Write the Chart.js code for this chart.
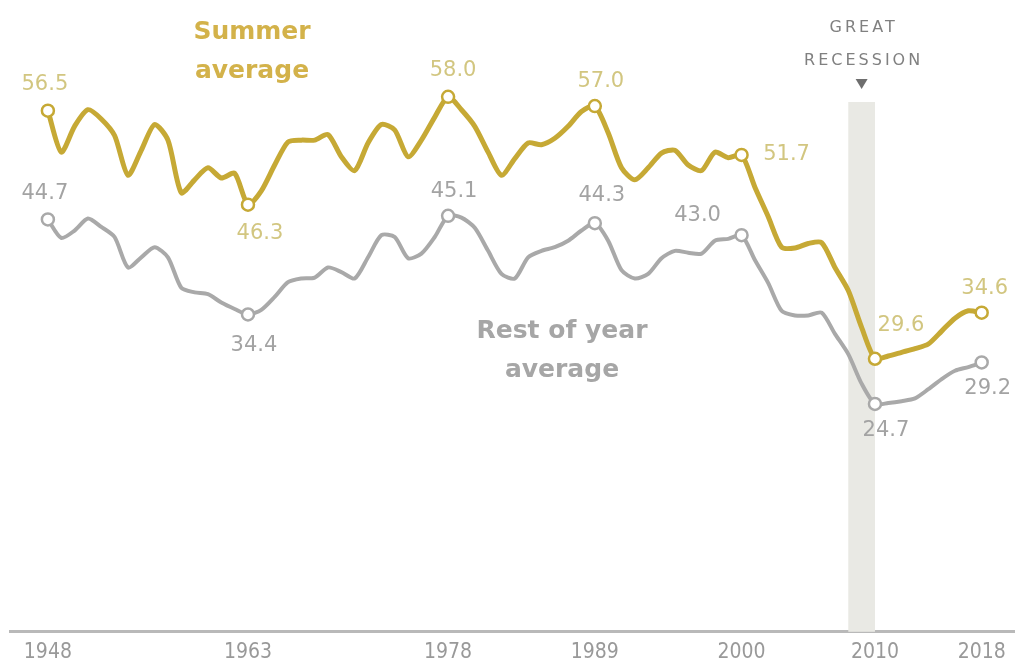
<!DOCTYPE html>
<html>
<head>
<meta charset="utf-8">
<script src="https://cdn.jsdelivr.net/npm/chart.js@4.4.1/dist/chart.umd.min.js"></script>
<style>
  html, body { margin: 0; padding: 0; background: #fff; }
  #wrap { width: 1023px; height: 666px; position: relative; }
</style>
</head>
<body>
<div id="wrap"><canvas id="myChart" width="1023" height="666"></canvas></div>
<script>
// years 1948 - 2018
var years = [];
for (var yr = 1948; yr <= 2018; yr++) years.push(yr);

// summer average (gold line)
var summerValues = [
  56.5, 52.0, 54.8, 56.6, 55.6, 53.8, 49.5, 52.2, 55.0, 53.3,
  47.6, 49.0, 50.3, 49.2, 49.7, 46.3, 47.8, 50.6, 53.1, 53.3,
  53.3, 53.9, 51.5, 50.0, 53.0, 55.0, 54.4, 51.5, 53.3, 55.8,
  58.0, 56.6, 54.8, 52.0, 49.5, 51.3, 53.0, 52.8, 53.5, 54.8,
  56.4, 57.0, 54.1, 50.3, 49.0, 50.3, 51.9, 52.2, 50.6, 50.0,
  52.0, 51.4, 51.7, 48.2, 45.0, 41.7, 41.6, 42.1, 42.2, 39.5,
  37.0, 33.0, 29.6, 29.9, 30.3, 30.7, 31.2, 32.6, 34.0, 34.8,
  34.6
];

// rest of year average (gray line)
var restValues = [
  44.7, 42.7, 43.5, 44.8, 43.9, 42.8, 39.5, 40.6, 41.7, 40.6,
  37.3, 36.8, 36.6, 35.7, 35.0, 34.4, 34.9, 36.3, 37.9, 38.3,
  38.4, 39.5, 39.0, 38.3, 40.6, 43.0, 42.8, 40.5, 41.0, 42.8,
  45.1, 44.9, 43.8, 41.3, 38.8, 38.3, 40.6, 41.3, 41.7, 42.4,
  43.5, 44.3, 42.4, 39.2, 38.3, 38.8, 40.5, 41.3, 41.1, 41.0,
  42.4, 42.6, 43.0, 40.3, 37.8, 34.8, 34.3, 34.3, 34.6, 32.3,
  30.1, 26.9, 24.7, 24.8, 25.0, 25.3, 26.3, 27.4, 28.3, 28.7,
  29.2
];

// years that get a circle and a value label
var labeledYears = [1948, 1963, 1978, 1989, 2000, 2010, 2018];
// x axis tick labels
var tickYears = [1948, 1963, 1978, 1989, 2000, 2010, 2018];
// Great Recession shading
var recessionStart = 2008;
var recessionEnd = 2010;

var GOLD = '#c6a935';
var GOLD_TEXT = '#d2c680';
var GRAY = '#a9a9a9';
var GRAY_TEXT = '#a3a3a3';

function toPoints(vals) {
  return years.map(function (y, i) { return { x: y, y: vals[i] }; });
}

function markerRadius(ctx) {
  var p = ctx.raw;
  return p && labeledYears.indexOf(p.x) >= 0 ? 6 : 0;
}

// label offsets (px) from the marker, per dataset
var labelOffsets = [
  { 1948: [-3, -26], 1963: [12, 29], 1978: [5, -26], 1989: [6, -24], 2000: [45, 0], 2010: [26, -33], 2018: [3, -24] },
  { 1948: [-3, -26], 1963: [6, 31], 1978: [6, -24], 1989: [7, -28], 2000: [-44, -20], 2010: [11, 27], 2018: [6, 26] }
];

var overlay = {
  id: 'overlay',
  beforeDatasetsDraw: function (chart) {
    var c = chart.ctx, xs = chart.scales.x, ys = chart.scales.y;
    var x0 = xs.getPixelForValue(recessionStart);
    var x1 = xs.getPixelForValue(recessionEnd);
    c.save();
    c.fillStyle = '#e9e9e4';
    c.fillRect(x0, 102, x1 - x0, ys.getPixelForValue(0) - 102);
    // arrow and heading above the band
    var mx = (x0 + x1) / 2;
    c.fillStyle = '#6e6e6e';
    c.beginPath();
    c.moveTo(mx - 6, 79);
    c.lineTo(mx + 6, 79);
    c.lineTo(mx, 89);
    c.closePath();
    c.fill();
    c.fillStyle = '#808080';
    c.font = '16px "DejaVu Sans", sans-serif';
    c.textAlign = 'center';
    c.textBaseline = 'middle';
    c.letterSpacing = '3px';
    c.fillText('GREAT', mx + 2, 28);
    c.fillText('RECESSION', mx + 2, 61);
    c.restore();
  },
  afterDatasetsDraw: function (chart) {
    var c = chart.ctx, xs = chart.scales.x, ys = chart.scales.y;
    c.save();
    c.textAlign = 'center';
    c.textBaseline = 'middle';
    // series titles
    c.font = 'bold 25px "DejaVu Sans", sans-serif';
    c.fillStyle = '#d3b24a';
    c.fillText('Summer', 252, 32);
    c.fillText('average', 252, 71);
    c.fillStyle = '#a6a6a6';
    c.fillText('Rest of year', 562, 331);
    c.fillText('average', 562, 370);
    // value labels
    c.font = '21px "DejaVu Sans", sans-serif';
    chart.data.datasets.forEach(function (ds, di) {
      c.fillStyle = di === 0 ? GOLD_TEXT : GRAY_TEXT;
      ds.data.forEach(function (p) {
        var off = labelOffsets[di][p.x];
        if (!off) return;
        var px = xs.getPixelForValue(p.x) + off[0];
        var py = ys.getPixelForValue(p.y) + off[1];
        c.fillText(p.y.toFixed(1), px, py);
      });
    });
    c.restore();
  }
};

var ctx = document.getElementById('myChart').getContext('2d');
var myChart = new Chart(ctx, {
  type: 'line',
  data: {
    datasets: [{
      label: 'Summer average',
      data: toPoints(summerValues),
      borderColor: GOLD,
      borderWidth: 5,
      tension: 0.25,
      pointRadius: markerRadius,
      pointBackgroundColor: '#fff',
      pointBorderColor: GOLD,
      pointBorderWidth: 2.5
    }, {
      label: 'Rest of year average',
      data: toPoints(restValues),
      borderColor: GRAY,
      borderWidth: 4,
      tension: 0.25,
      pointRadius: markerRadius,
      pointBackgroundColor: '#fff',
      pointBorderColor: GRAY,
      pointBorderWidth: 2.5
    }]
  },
  options: {
    responsive: false,
    animation: false,
    layout: { padding: { left: 10, right: 3, top: 23, bottom: -7 } },
    plugins: { legend: { display: false }, tooltip: { enabled: false } },
    elements: { line: { borderCapStyle: 'round', borderJoinStyle: 'round' } },
    scales: {
      x: {
        type: 'linear',
        min: 1945.16,
        max: 2020.46,
        afterBuildTicks: function (axis) {
          axis.ticks = tickYears.map(function (v) { return { value: v }; });
        },
        grid: { display: false, drawTicks: false },
        border: { display: true, color: '#b9b9b9', width: 3 },
        ticks: {
          autoSkip: false,
          maxRotation: 0,
          padding: 8,
          color: '#999999',
          font: { family: '"Liberation Sans Narrow", "DejaVu Sans Condensed", sans-serif', size: 21 },
          callback: function (v) { return String(v); }
        }
      },
      y: {
        display: false,
        min: 0,
        max: 66
      }
    }
  },
  plugins: [overlay]
});
</script>
</body>
</html>
